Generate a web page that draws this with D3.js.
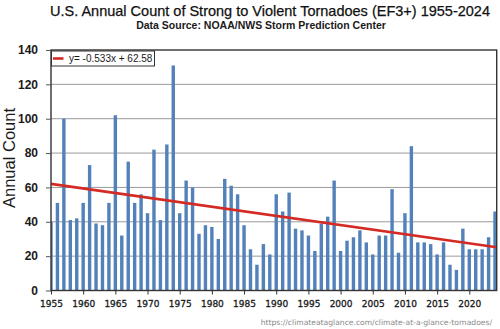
<!DOCTYPE html>
<html>
  <head>
    <script src="https://d3js.org/d3.v7.min.js"></script>
    <style>
      body { margin: 0; background: #fff; }
      svg { display: block; }
    </style>
  </head>
  <body>
    <div id="chart"></div>
    <script>
      // EF3+ tornado counts (1955 sits under the left border)
      const years = d3.range(1955, 2025);
      const counts = [
        40, 51, 100, 41, 42, 51, 73, 39, 38, 51,
        102, 32, 75, 51, 56, 45, 82, 41, 85, 131,
        45, 64, 60, 33, 38, 37, 30, 65, 61, 56,
        38, 24, 15, 27, 21, 56, 46, 57, 36, 35,
        32, 23, 39, 43, 64, 23, 29, 31, 35, 28,
        21, 32, 32, 59, 22, 45, 84, 28, 28, 27,
        21, 28, 15, 12, 36, 24, 24, 24, 31, 46
      ];
      const yTicks = [0, 20, 40, 60, 80, 100, 120, 140];
      const xTicks = d3.range(1955, 2025, 5);
      const trend = { slope: -0.533, intercept: 62.58 };

      const width = 500, height = 329;
      const plotL = 51, plotR = 496.7, plotT = 50, plotB = 290.5;

      const svg = d3.select('#chart').append('svg')
        .attr('width', width)
        .attr('height', height);

      const x = d3.scaleLinear().domain([1955, 2024.26]).range([plotL, plotR]);
      const y = d3.scaleLinear().domain([0, 140]).range([plotB, plotT]);

      // titles
      const title = svg.append('text')
        .attr('x', 270).attr('y', 16)
        .attr('text-anchor', 'middle')
        .style('font-family', 'Liberation Sans, Arial, sans-serif')
        .style('font-size', '15px')
        .style('fill', '#111')
        .style('stroke', '#111')
        .style('stroke-width', 0.25)
        .text('U.S. Annual Count of Strong to Violent Tornadoes (EF3+) 1955-2024');
      // shrink the title to the reference width (about 440px)
      const tLen = title.node().getComputedTextLength();
      title.style('font-size', (15 * 440 / tLen).toFixed(2) + 'px');

      svg.append('text')
        .attr('x', 261).attr('y', 29)
        .attr('text-anchor', 'middle')
        .style('font-family', 'Liberation Sans, Arial, sans-serif')
        .style('font-size', '10.5px')
        .style('font-weight', 'bold')
        .style('fill', '#1a1a1a')
        .text('Data Source: NOAA/NWS Storm Prediction Center');

      // gridlines
      svg.append('g')
        .selectAll('line')
        .data(yTicks.filter(d => d > 0 && d < 140))
        .join('line')
        .attr('x1', plotL).attr('x2', plotR)
        .attr('y1', d => y(d)).attr('y2', d => y(d))
        .attr('stroke', '#9a9a9a')
        .attr('stroke-width', 1);

      // bars
      svg.append('clipPath').attr('id', 'plot')
        .append('rect')
        .attr('x', plotL).attr('y', plotT)
        .attr('width', plotR - plotL).attr('height', plotB - plotT);

      const data = years.map((yr, i) => ({ yr, v: counts[i] }));
      const barW = 3.4;

      svg.append('g')
        .attr('clip-path', 'url(#plot)')
        .selectAll('rect')
        .data(data)
        .join('rect')
        .attr('x', d => x(d.yr) - barW / 2)
        .attr('y', d => y(d.v))
        .attr('width', barW)
        .attr('height', d => y(0) - y(d.v))
        .attr('fill', '#5381ba');

      // linear trend, x = 1 for 1955
      const trendPts = [1955, 2024.26].map(yr => [x(yr), y(trend.slope * (yr - 1954) + trend.intercept)]);
      svg.append('path')
        .attr('d', d3.line()(trendPts))
        .attr('stroke', '#d42a24')
        .attr('stroke-width', 2.6)
        .attr('fill', 'none');

      // plot border
      svg.append('rect')
        .attr('x', plotL).attr('y', plotT)
        .attr('width', plotR - plotL).attr('height', plotB - plotT)
        .attr('fill', 'none')
        .attr('stroke', '#333')
        .attr('stroke-width', 1.4);

      // y axis
      const yAxis = svg.append('g')
        .attr('transform', `translate(${plotL},0)`)
        .call(d3.axisLeft(y).tickValues(yTicks).tickSize(5).tickPadding(8));
      yAxis.select('.domain').remove();
      yAxis.selectAll('line').attr('stroke', '#555');
      yAxis.selectAll('text')
        .style('font-family', 'Liberation Sans, Arial, sans-serif')
        .style('font-size', '12px')
        .style('font-weight', 'bold')
        .style('fill', '#1a1a1a');

      // x axis
      const xAxis = svg.append('g')
        .attr('transform', `translate(0,${plotB})`)
        .call(d3.axisBottom(x).tickValues(xTicks).tickFormat(d3.format('d')).tickSize(4).tickPadding(6));
      xAxis.select('.domain').remove();
      xAxis.selectAll('line').attr('stroke', '#333');
      xAxis.selectAll('text')
        .style('font-family', 'DejaVu Sans, Verdana, sans-serif')
        .style('font-size', '9px')
        .style('fill', '#1a1a1a')
        .style('stroke', '#1a1a1a')
        .style('stroke-width', 0.3);

      svg.append('text')
        .attr('transform', 'translate(15,158) rotate(-90)')
        .attr('text-anchor', 'middle')
        .style('font-family', 'Liberation Sans, Arial, sans-serif')
        .style('font-size', '16.5px')
        .style('fill', '#1a1a1a')
        .text('Annual Count');

      // legend
      const lg = svg.append('g');
      lg.append('rect')
        .attr('x', 51.5).attr('y', 51)
        .attr('width', 103).attr('height', 15)
        .attr('fill', '#fff')
        .attr('stroke', '#333')
        .attr('stroke-width', 1);
      lg.append('line')
        .attr('x1', 53).attr('x2', 63.5)
        .attr('y1', 58.5).attr('y2', 58.5)
        .attr('stroke', '#d42a24')
        .attr('stroke-width', 2.6);
      lg.append('text')
        .attr('x', 69).attr('y', 62)
        .style('font-family', 'Liberation Sans, Arial, sans-serif')
        .style('font-size', '10px')
        .style('fill', '#1a1a1a')
        .text(`y= ${trend.slope}x + ${trend.intercept}`);

      // source url
      svg.append('text')
        .attr('x', 492).attr('y', 325)
        .attr('text-anchor', 'end')
        .style('font-family', 'DejaVu Sans, Verdana, sans-serif')
        .style('font-size', '7.6px')
        .style('fill', '#8a8a8a')
        .text('https://climateataglance.com/climate-at-a-glance-tornadoes/');
    </script>
  </body>
</html>
